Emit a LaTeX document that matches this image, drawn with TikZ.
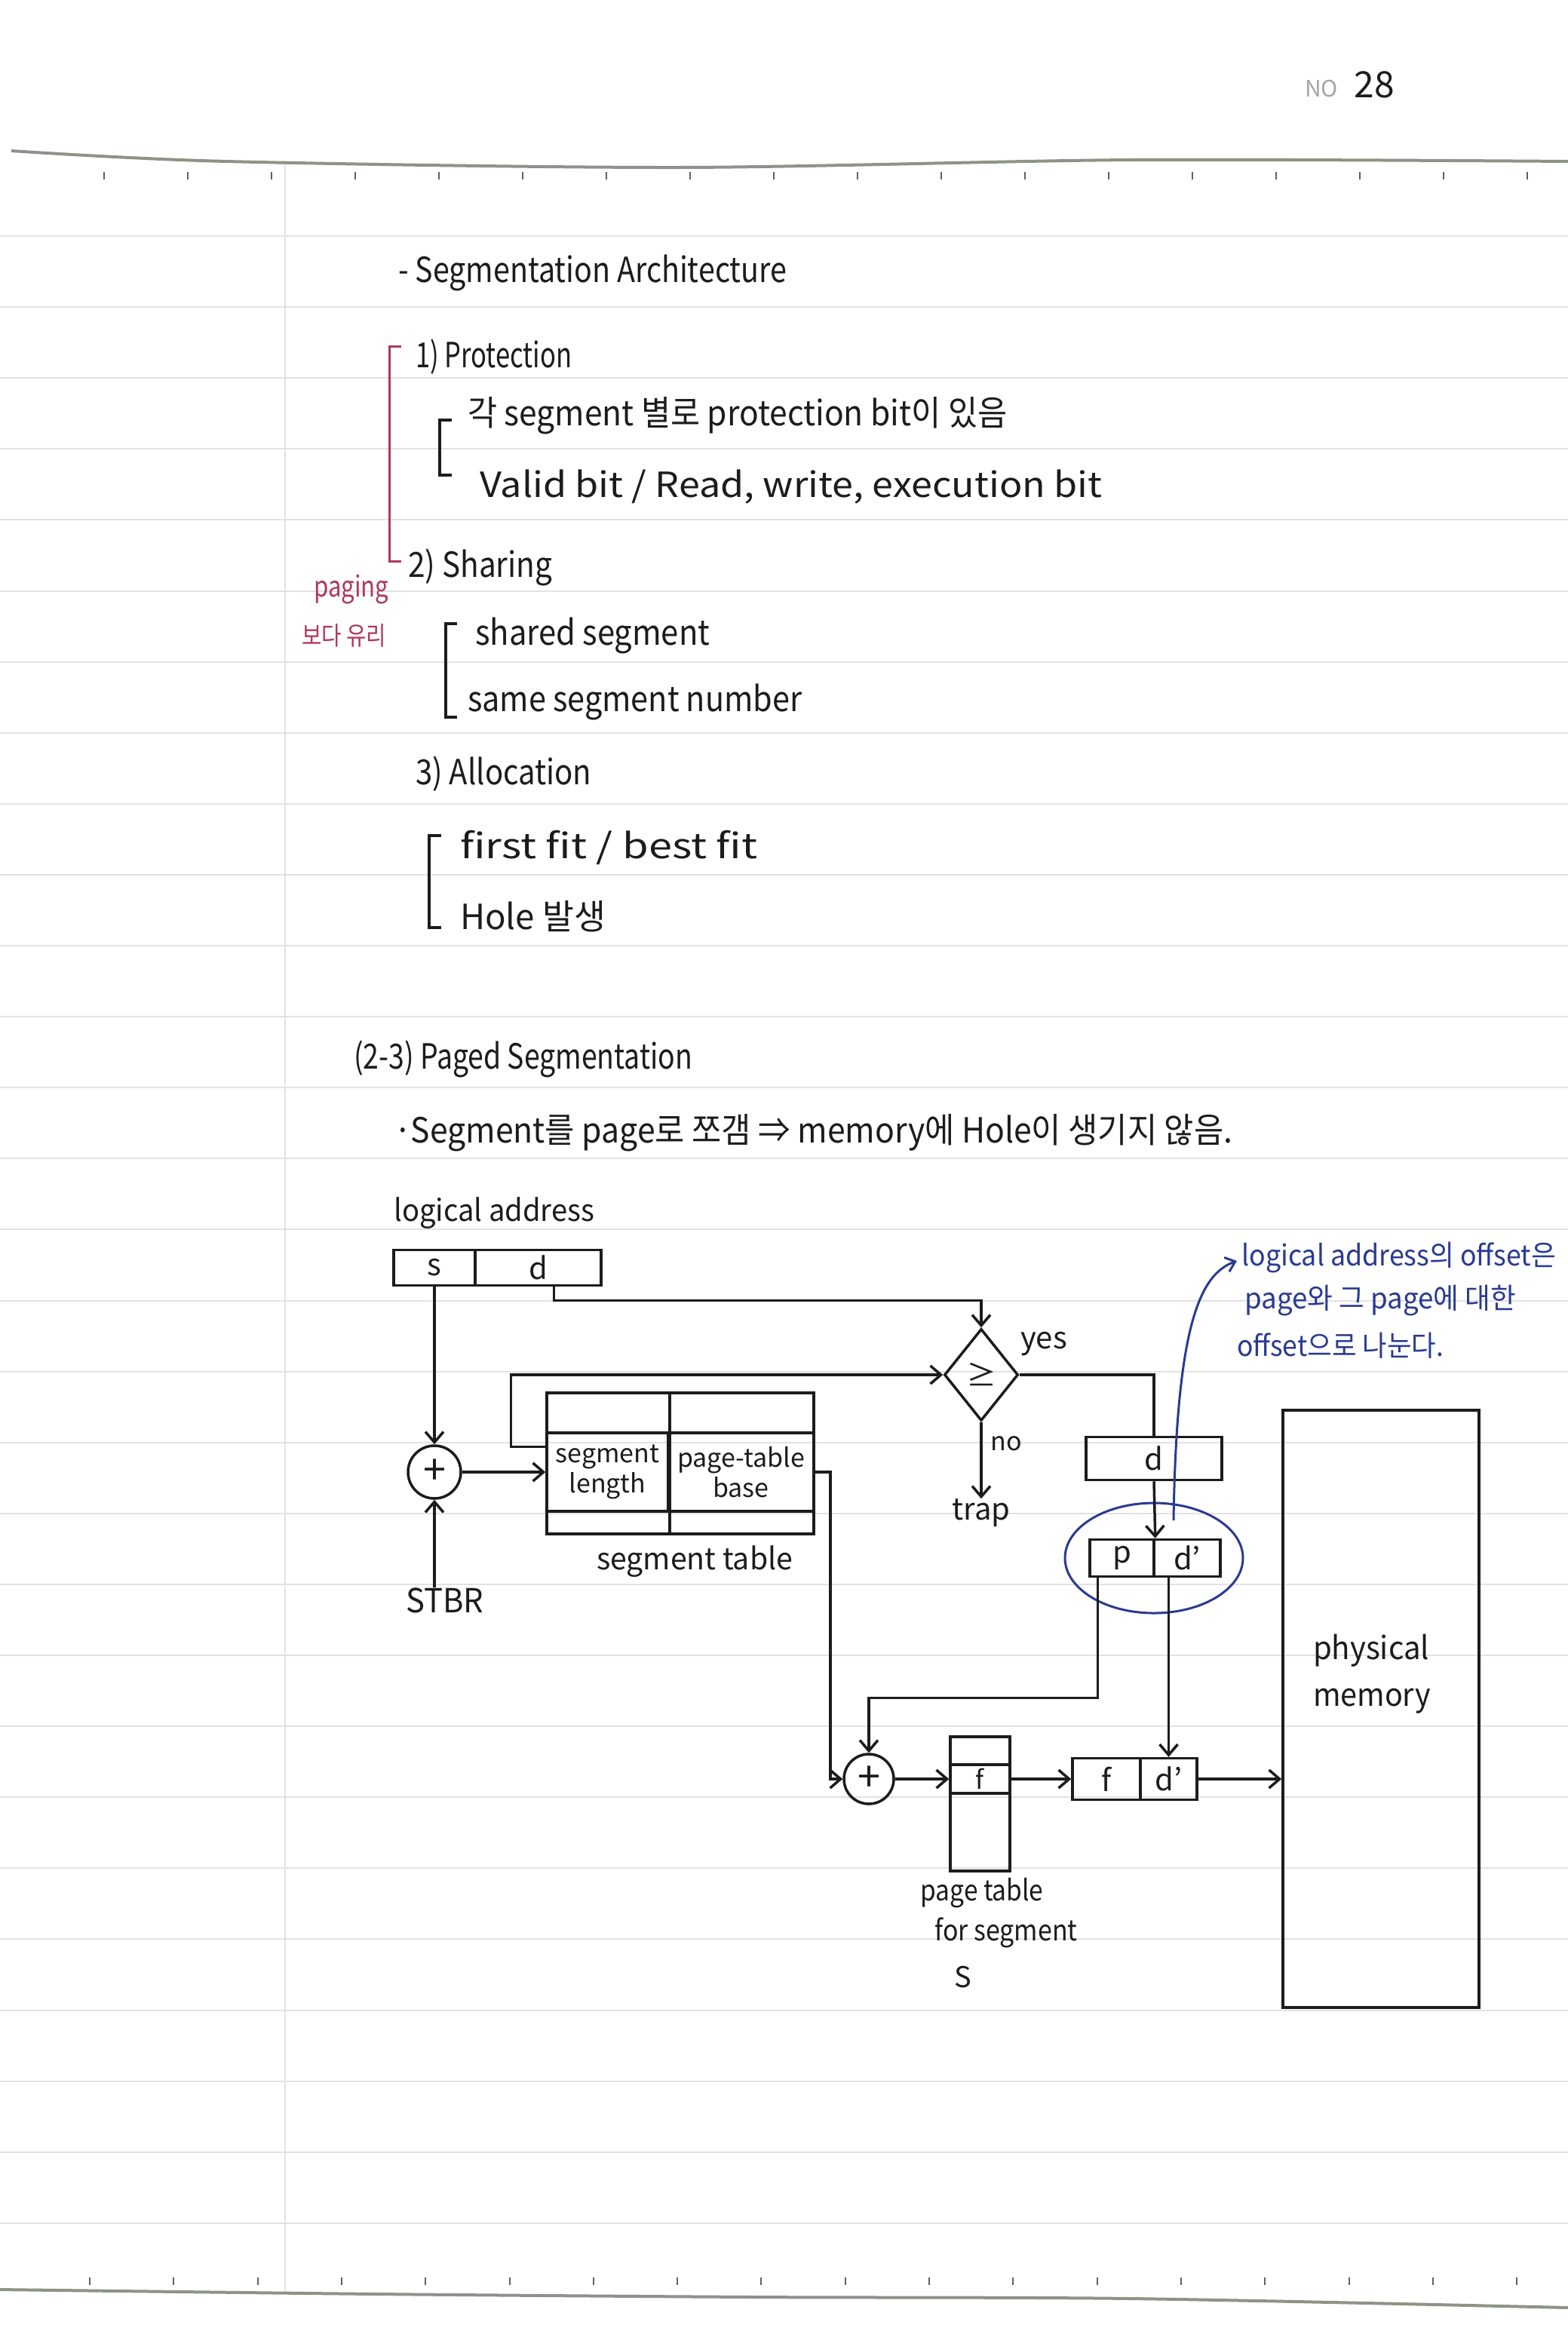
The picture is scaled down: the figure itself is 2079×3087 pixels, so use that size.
\documentclass[tikz,border=0pt]{standalone}
\usepackage{fontspec}
\setmainfont{Noto Sans CJK KR}
\usepackage{graphicx}
\usetikzlibrary{arrows.meta,shapes.geometric,calc}
\definecolor{ink}{HTML}{1C1C1C}
\definecolor{redink}{HTML}{B0375C}
\definecolor{blueink}{HTML}{2A3A92}
\definecolor{ruleline}{HTML}{E2E2E2}
\definecolor{edgeline}{HTML}{8E9388}
% squeeze a text horizontally to a given width (in pt), keeping its height
\newcommand{\hwfit}[2]{\resizebox{#1pt}{\height}{#2}}

\begin{document}
\begin{tikzpicture}[x=1pt,y=-1pt,
  every node/.style={text=ink, inner sep=0pt},
  txt/.style={anchor=west, font=\fontsize{46}{50}\selectfont},
  lbl/.style={font=\fontsize{40}{44}\selectfont},
  small/.style={font=\fontsize{34}{40}\selectfont, align=center},
  cellbox/.style={draw=ink, line width=3.5pt},
  wire/.style={draw=ink, line width=3.5pt},
  arr/.style={wire, -{Straight Barb[length=14pt,width=24pt]}},
  note/.style={anchor=west, text=blueink, font=\fontsize{38}{42}\selectfont},
  redtxt/.style={text=redink, font=\fontsize{38}{42}\selectfont},
  adder/.style={circle, draw=ink, line width=3.5pt, font=\fontsize{54}{56}\selectfont},
]
\useasboundingbox (0,0) rectangle (2079,3087);
\fill[white] (0,0) rectangle (2079,3087);

% ---- notebook paper ----
\foreach \k in {0,...,28}
  \draw[ruleline, line width=2pt] (0,{313+94.1*\k}) -- (2079,{313+94.1*\k});
\draw[ruleline, line width=2pt] (378,213) -- (378,3042);
\draw[edgeline, line width=4pt] plot[smooth] coordinates {(15,200) (300,214) (900,222) (1500,212) (2079,214)};
\foreach \k in {0,...,17}
  \draw[ink!70, line width=2pt] ({138+111*\k},228) -- ++(0,10);
\draw[edgeline, line width=4pt] plot[smooth] coordinates {(0,3036) (500,3042) (1000,3046) (1500,3048) (2079,3060)};
\foreach \k in {0,...,17}
  \draw[ink!70, line width=2pt] ({119+111.3*\k},3020) -- ++(0,10);

\node[font=\fontsize{30}{32}\selectfont, text=gray!70] (pgno) at (1752,118) {NO};
\node[font=\fontsize{48}{50}\selectfont] (pgnum) at (1822,112) {28};

% ---- segmentation architecture notes ----
\node[txt] (hdr) at (528,362) {\hwfit{515}{- Segmentation Architecture}};
\node[txt] (prot) at (551,473) {\hwfit{207}{1) Protection}};
\node[txt] (prot1) at (620,551) {\hwfit{715}{각 segment 별로 protection bit이 있음}};
\node[txt] (prot2) at (636,646) {\hwfit{825}{Valid bit / Read, write, execution bit}};
\node[txt] (shar) at (541,752) {\hwfit{191}{2) Sharing}};
\node[txt] (shar1) at (630,843) {\hwfit{311}{shared segment}};
\node[txt] (shar2) at (620,931) {\hwfit{443}{same segment number}};
\node[txt] (alloc) at (551,1026) {\hwfit{233}{3) Allocation}};
\node[txt] (alloc1) at (610,1124) {\hwfit{394}{first fit / best fit}};
\node[txt] (alloc2) at (610,1215) {\hwfit{193}{Hole 발생}};

\node[redtxt] (pg1) at (466,782) {\hwfit{99}{paging}};
\node[redtxt, font=\fontsize{34}{38}\selectfont] (pg2) at (456,843) {\hwfit{112}{보다 유리}};

% brackets
\draw[redink, line width=3pt] (532,459) -- (516,459) -- (516,744) -- (532,744);
\draw[ink, line width=3.5pt] (599,557) -- (583,557) -- (583,630) -- (599,630);
\draw[ink, line width=3.5pt] (606,827) -- (591,827) -- (591,951) -- (606,951);
\draw[ink, line width=3.5pt] (585,1108) -- (569,1108) -- (569,1230) -- (585,1230);

% ---- paged segmentation ----
\node[txt] (paged) at (469,1404) {\hwfit{449}{(2-3) Paged Segmentation}};
\node[txt] (paged1) at (522,1502) {\hwfit{1112}{·Segment를 page로 쪼갬 ⇒ memory에 Hole이 생기지 않음.}};

\node[lbl, anchor=west] (latitle) at (522,1609) {\hwfit{266}{logical address}};
\node[cellbox, lbl, minimum width=108pt, minimum height=47pt] (las) at (576,1681) {s};
\node[cellbox, lbl, minimum width=167pt, minimum height=47pt] (lad) at (713.5,1681) {d};

\node[adder, minimum size=70pt] (plus1) at (576,1952) {+};
\node[lbl, font=\fontsize{44}{48}\selectfont] (stbr) at (590,2122) {\hwfit{103}{STBR}};

\node[cellbox, minimum width=354pt, minimum height=187pt] (segtab) at (902,1940.5) {};
\node[cellbox, small, minimum width=161pt, minimum height=104pt] (segLen) at (805.5,1952) {segment\\length};
\node[cellbox, small, minimum width=193pt, minimum height=104pt] (ptBase) at (982.5,1952) {page-table\\base};
\draw[wire] (segLen.north east |- segtab.north) -- (segLen.south east |- segtab.south);
\node[lbl] (segtablbl) at (921,2071) {\hwfit{260}{segment table}};

\node[diamond, draw=ink, line width=3.5pt, minimum width=98pt, minimum height=122pt, lbl] (dia) at (1301,1823) {≥};
\node[lbl, anchor=west] (yes) at (1353,1782) {yes};
\node[lbl, font=\fontsize{34}{38}\selectfont] (no) at (1334,1914) {no};
\node[lbl] (trap) at (1301,2006) {trap};

\node[cellbox, lbl, minimum width=180pt, minimum height=57pt] (dbox) at (1530,1934) {d};
\node[cellbox, lbl, minimum width=85pt, minimum height=49pt] (pc) at (1487.5,2066) {p};
\node[cellbox, lbl, minimum width=88pt, minimum height=49pt] (dpc) at (1574,2066) {d'};
\node[ellipse, draw=blueink, line width=3pt, minimum width=236pt, minimum height=146pt] (circ) at (1530,2066) {};

\node[adder, minimum size=66pt] (plus2) at (1152,2359) {+};
\node[cellbox, minimum width=79pt, minimum height=178pt] (ptab) at (1299.5,2392) {};
\node[cellbox, small, minimum width=79pt, minimum height=38pt] (frow) at (1299.5,2359) {f};
\node[cellbox, lbl, minimum width=90pt, minimum height=55pt] (fc) at (1467,2359) {f};
\node[cellbox, lbl, minimum width=75pt, minimum height=55pt] (fdc) at (1549.5,2359) {d'};

\node[lbl, font=\fontsize{38}{42}\selectfont] (ptl1) at (1302,2510) {\hwfit{163}{page table}};
\node[lbl, font=\fontsize{38}{42}\selectfont] (ptl2) at (1334,2563) {\hwfit{189}{for segment}};
\node[lbl, font=\fontsize{38}{42}\selectfont] (ptl3) at (1277,2622) {S};

\node[cellbox, minimum width=260pt, minimum height=792pt] (pm) at (1831,2266) {};
\node[lbl, font=\fontsize{42}{62}\selectfont, align=left] (pmlabel) at (1819,2220) {\hwfit{154}{physical}\\\hwfit{156}{memory}};

% ---- connectors ----
\draw[arr] (las.south) -- (plus1.north);
\coordinate (dtap) at ($(lad.south)+(21,0)$);
\draw[arr] (dtap) -- ++(0,18) -| (dia.north);
\draw[arr] (plus1.south |- stbr.north) -- (plus1.south);
\draw[arr] (plus1.east) -- (segLen.west);
\coordinate (loopstart) at ($(segtab.west |- segLen.north)+(0,20)$);
\draw[arr] (loopstart) -- ++(-46,0) |- (dia.west);
\draw[wire] (dia.east) -| (dbox.north);
\draw[arr] (dia.south) -- (trap.north);
\draw[arr] (dbox.south) -- (pc.north east);
\draw[arr] (segtab.east |- ptBase.east) -- ++(20,0) |- (plus2.west);
\coordinate (ptap) at ($(pc.south west)+(12,0)$);
\draw[arr] (ptap) -- ++(0,159) -| (plus2.north);
\draw[arr] (plus2.east) -- (frow.west);
\draw[arr] (frow.east) -- (fc.west);
\draw[arr] (fdc.north |- dpc.south) -- (fdc.north);
\draw[arr] (fdc.east) -- (fdc.east -| pm.west);

% ---- annotation ----
\node[note] (note1) at (1646,1668) {\hwfit{417}{logical address의 offset은}};
\node[note] (note2) at (1650,1725) {\hwfit{360}{page와 그 page에 대한}};
\node[note] (note3) at (1640,1784) {\hwfit{274}{offset으로 나눈다.}};
\coordinate (bstart) at ($(circ.center)+(26,-50)$);
\draw[blueink, line width=3pt, -{Straight Barb[length=12pt,width=20pt]}]
  (bstart) .. controls (1560,1760) and (1590,1690) .. ($(note1.west)+(-6,4)$);
\end{tikzpicture}
\end{document}
